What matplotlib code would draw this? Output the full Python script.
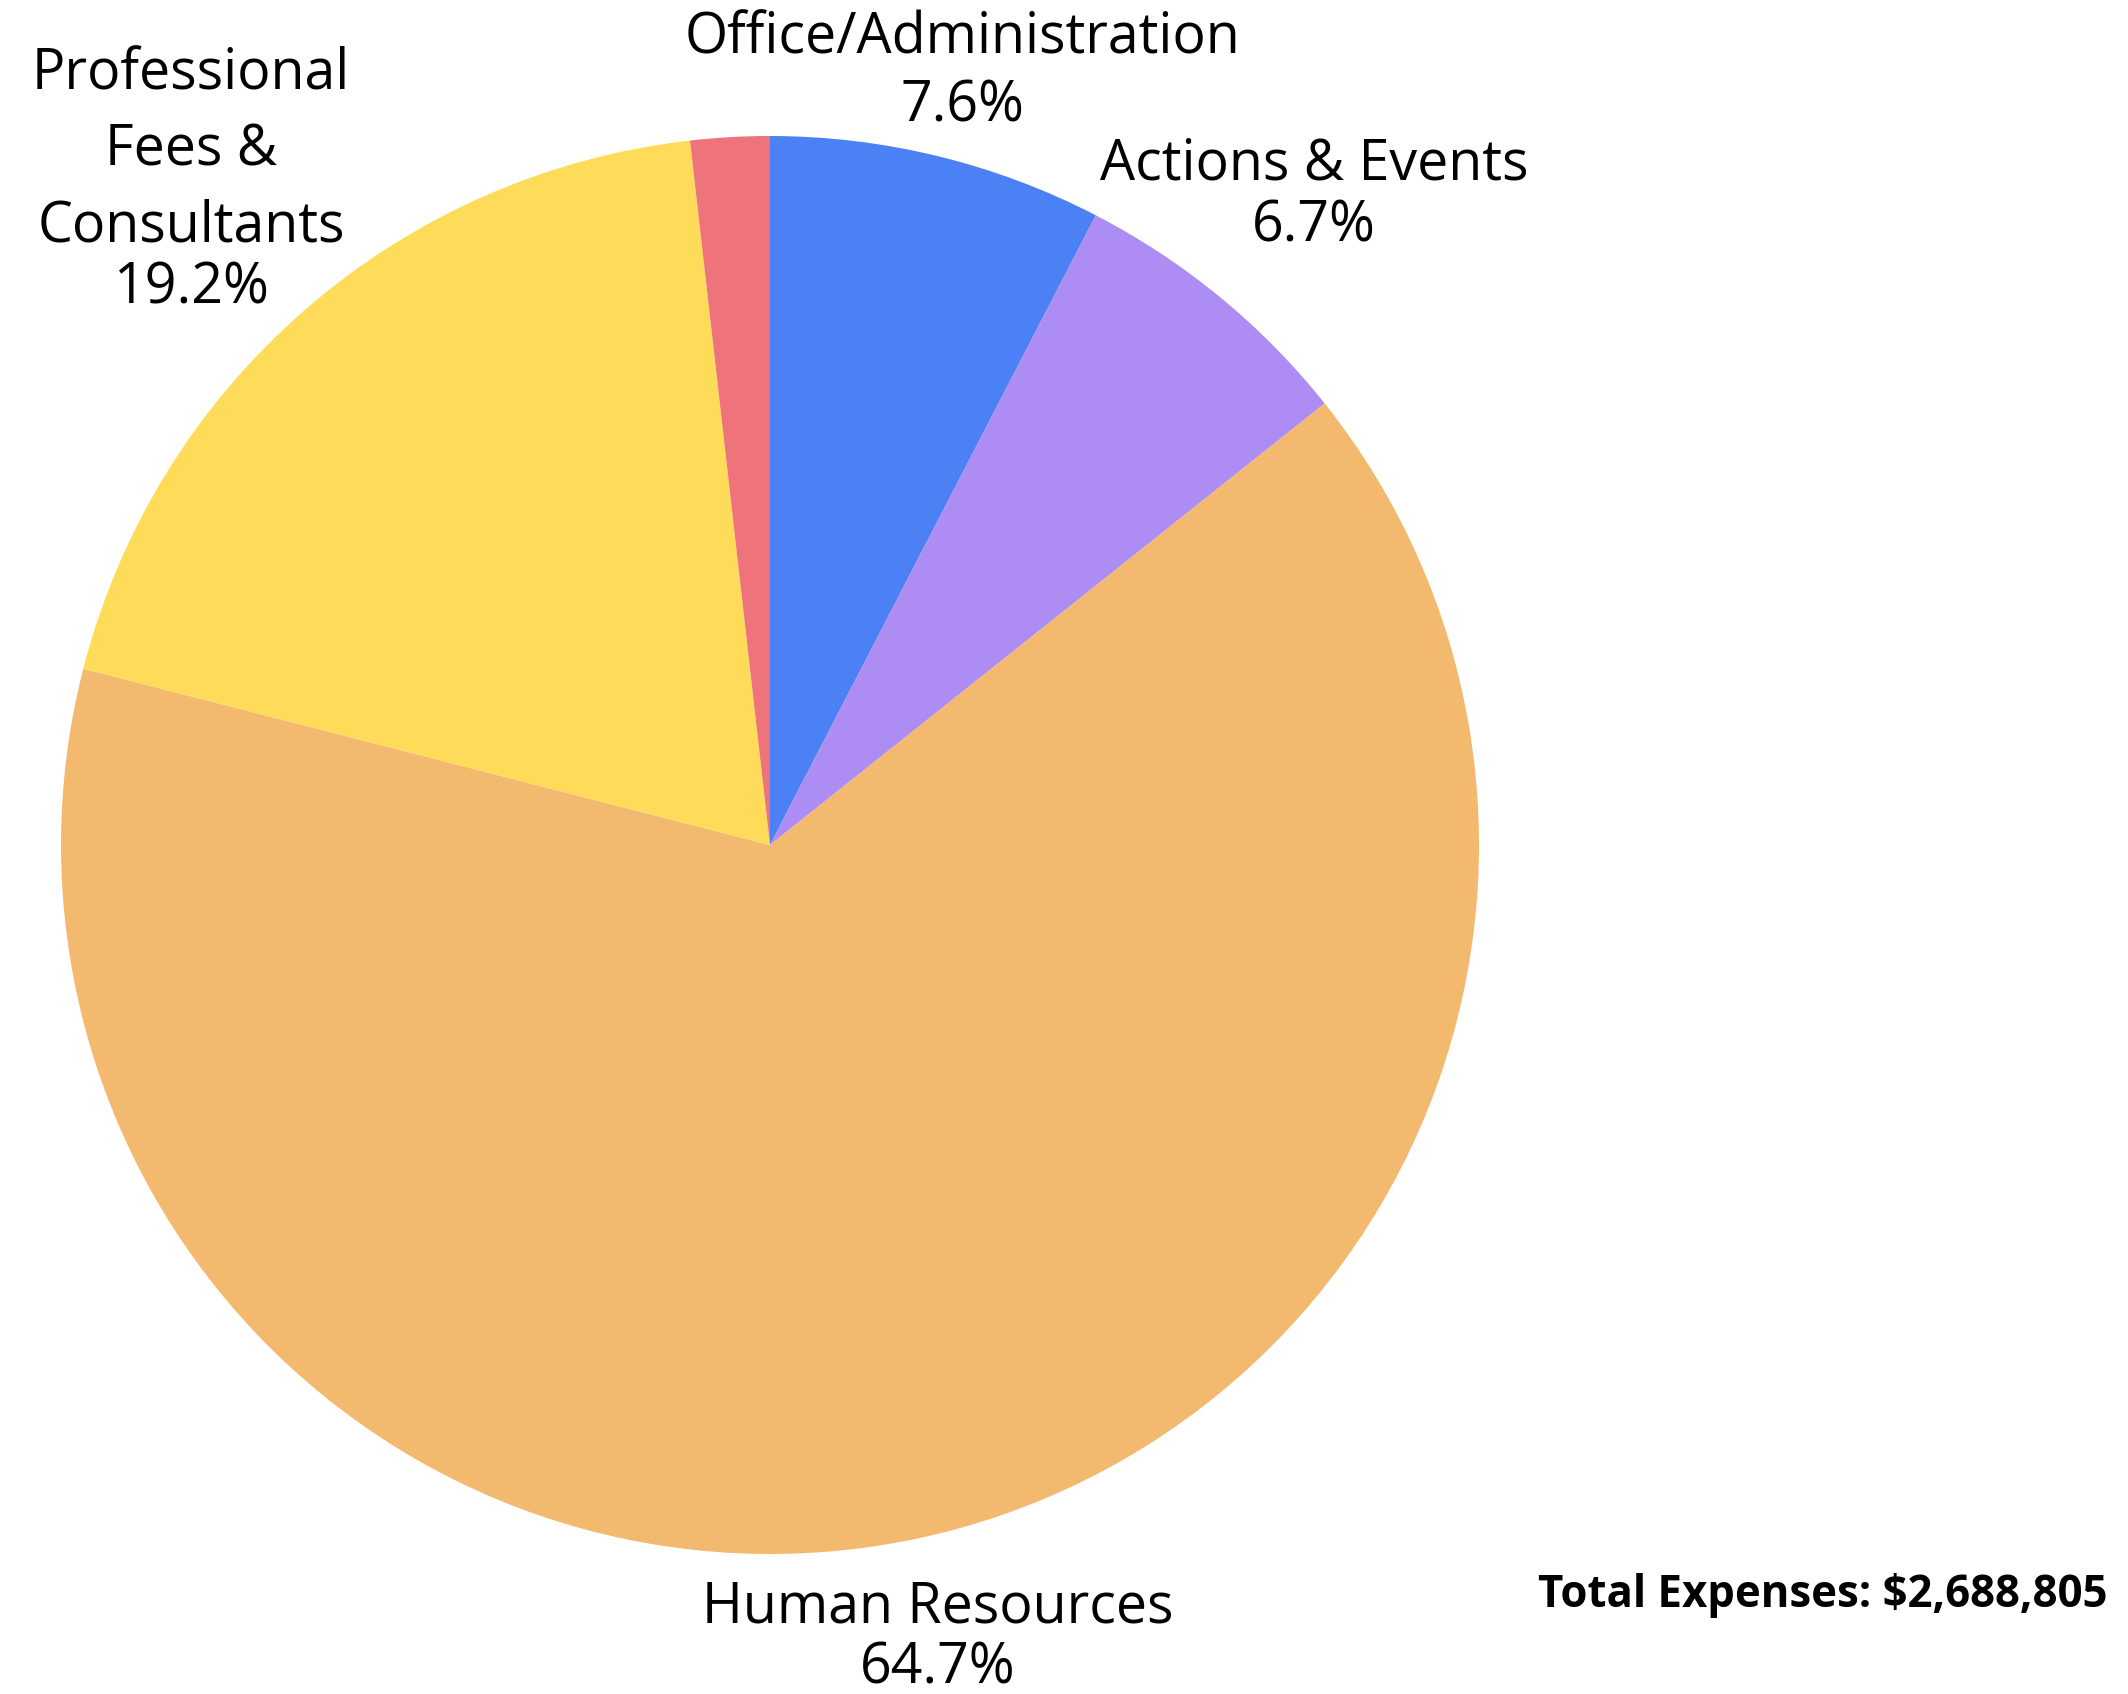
import matplotlib
matplotlib.use("Agg")
import matplotlib.pyplot as plt

# expense categories, clockwise from 12 o'clock
categories = ["Office/Administration", "Actions & Events", "Human Resources",
              "Professional\nFees &\nConsultants", "Other"]
shares = [7.6, 6.7, 64.7, 19.2, 1.8]
colors = ["#4C80F5", "#AD8DF3", "#F3B96E", "#FEDC5A", "#EF737B"]
total_expenses = 2688805

W, H = 2128, 1694
plt.rcParams['font.family'] = ['Open Sans', 'DejaVu Sans']

fig = plt.figure(figsize=(W / 100, H / 100), dpi=100)
fig.patch.set_facecolor("white")

# pie centre and radius in px
cx, cy, r = 770, 845, 709
ax = fig.add_axes([(cx - r) / W, (H - cy - r) / H, 2 * r / W, 2 * r / H])
ax.pie(shares, colors=colors, startangle=90, counterclock=False, radius=1)
ax.set_xlim(-1, 1)
ax.set_ylim(-1, 1)
ax.set_aspect("auto")
ax.axis("off")


def put(x, y, s, **kw):
    fig.text(x / W, 1 - y / H, s, ha="center", va="baseline", fontsize=40, **kw)


# label name lines (baselines in px) and percentage
label_spots = {
    0: ([54], 962, 122),
    1: ([180], 1314, 242),
    2: ([1622], 938, 1683),
    3: ([90, 165, 241], 191, 303),
}
for i, (ys, x, py) in label_spots.items():
    for line, y in zip(categories[i].split("\n"), ys):
        put(x, y, line)
    put(x, py, "{:.1f}%".format(shares[i]))

fig.text(2108 / W, 1 - 1607 / H, "Total Expenses: ${:,}".format(total_expenses),
         ha="right", va="baseline", fontsize=31.5, fontweight="bold")

fig.savefig("out.png", dpi=100, facecolor="white")
